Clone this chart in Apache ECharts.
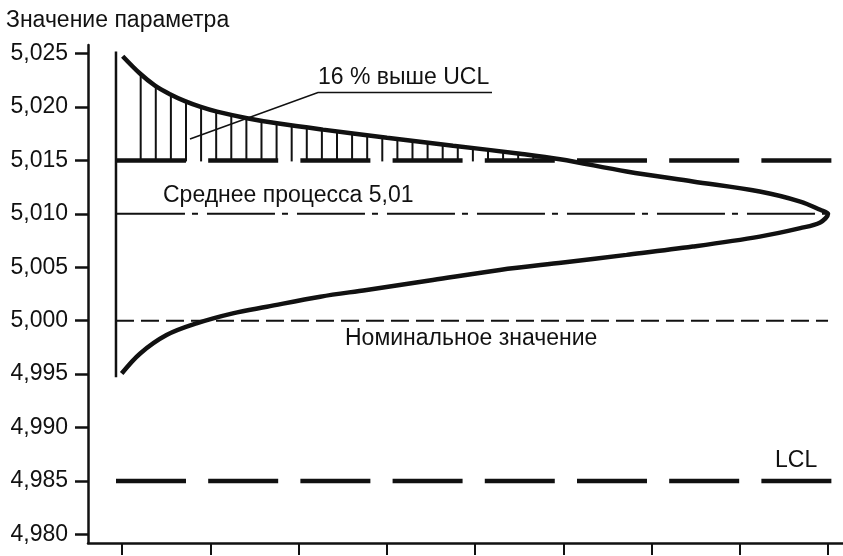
<!DOCTYPE html>
<html>
<head>
<meta charset="utf-8">
<script src="https://cdn.jsdelivr.net/npm/echarts@6/dist/echarts.min.js"></script>
<style>
html,body{margin:0;padding:0;background:#fff;}
#chart{width:843px;height:556px;}
</style>
</head>
<body>
<div id="chart"></div>
<script>
// ---- data ----
const yTickValues = [4.980, 4.985, 4.990, 4.995, 5.000, 5.005, 5.010, 5.015, 5.020, 5.025];
const xTickValues = [0.84, 13.24, 25.63, 38.03, 50.42, 62.82, 75.21, 87.61, 100];
// relative frequency (% of peak) and parameter value along the distribution curve
const curveDensity = [0.94, 3.37, 5.48, 7.58, 9.69, 11.8, 14.19, 18.4, 22.61, 29.07, 38.06, 47.33, 56.74, 62.36, 71.7, 81.0, 90.4, 96.1, 98.9, 100,
                      98.9, 96.1, 90.4, 81.0, 71.7, 62.8, 53.9, 44.5, 35.2, 28.7, 21.2, 16.4, 11.3, 7.1, 3.4, 0.8];
const curveValue = [5.02475, 5.02313, 5.02200, 5.02120, 5.02055, 5.02003, 5.01956, 5.01895, 5.01847, 5.01788, 5.01713, 5.01638, 5.01563, 5.01511, 5.01397, 5.01303, 5.01209, 5.01115, 5.01038, 5.01000,
                    5.00920, 5.00866, 5.00787, 5.00694, 5.00616, 5.00545, 5.00475, 5.00381, 5.00288, 5.00225, 5.00131, 5.00069, 4.99975, 4.99866, 4.99694, 4.99506];
const UCL = 5.015;
const LCL = 4.985;
const processMean = 5.010;
const nominalValue = 5.000;
const baselineRange = [5.0252, 4.9947];
const limitLineEnd = 100.7;
const refLineEnd = 100;

// ---- chart ----
const chart = echarts.init(document.getElementById('chart'), null, {renderer: 'canvas'});
const INK = '#111';
const FONT = 'Liberation Sans, Arial, sans-serif';
const FS = 23;

const curveData = curveDensity.map((d, i) => [d, curveValue[i]]);
const peakIndex = curveDensity.indexOf(Math.max.apply(null, curveDensity));

function hatchRender(params, api) {
  if (params.dataIndex !== 0) return null;
  const pts = [];
  for (let i = 0; i <= peakIndex; i++) pts.push(api.coord([curveDensity[i], curveValue[i]]));
  const base = api.coord([0, UCL]);
  const uy = base[1];
  const children = [];
  for (let k = 0; k < 60; k++) {
    const x = base[0] + 24.7 + 15.1 * k;
    let yc = null;
    for (let i = 0; i < pts.length - 1; i++) {
      if (pts[i][0] <= x && x <= pts[i + 1][0]) {
        const t = (x - pts[i][0]) / (pts[i + 1][0] - pts[i][0]);
        yc = pts[i][1] + t * (pts[i + 1][1] - pts[i][1]);
        break;
      }
    }
    if (yc === null || yc >= uy - 2) break;
    children.push({type: 'line', shape: {x1: x, y1: uy + 1, x2: x, y2: yc}, style: {stroke: INK, lineWidth: 2}});
  }
  return {type: 'group', children: children};
}

const option = {
  backgroundColor: '#fff',
  animation: false,
  grid: {left: 88, right: 0, top: 45, bottom: 13, outerBoundsMode: 'none', containLabel: false},
  xAxis: {
    type: 'value', min: -3.93, max: 102.1,
    axisLine: {show: true, onZero: false, lineStyle: {color: INK, width: 2.5}},
    axisTick: {show: true, length: 12, inside: false, customValues: xTickValues, lineStyle: {color: INK, width: 2}},
    axisLabel: {show: false},
    splitLine: {show: false}
  },
  yAxis: {
    type: 'value', min: 4.9792, max: 5.0258,
    axisLine: {show: true, onZero: false, lineStyle: {color: INK, width: 2.5}},
    axisTick: {show: true, length: 13, customValues: yTickValues, lineStyle: {color: INK, width: 2.5}},
    axisLabel: {
      show: true, customValues: yTickValues, margin: 20, color: INK, fontSize: FS, fontFamily: FONT,
      formatter: v => v.toFixed(3).replace('.', ',')
    },
    splitLine: {show: false}
  },
  series: [
    {type: 'custom', renderItem: hatchRender, data: [[0, UCL]], silent: true, z: 2},
    {type: 'line', data: [[0, UCL], [limitLineEnd, UCL]], showSymbol: false, silent: true, z: 3,
     lineStyle: {color: INK, width: 4.5, type: [70, 22.2]}},
    {type: 'line', data: [[0, LCL], [limitLineEnd, LCL]], showSymbol: false, silent: true, z: 3,
     lineStyle: {color: INK, width: 4.5, type: [70, 22.2]}},
    {type: 'line', data: [[0, processMean], [refLineEnd, processMean]], showSymbol: false, silent: true, z: 3,
     lineStyle: {color: INK, width: 2, type: [68, 7, 6, 9], dashOffset: -1}},
    {type: 'line', data: [[0, nominalValue], [refLineEnd, nominalValue]], showSymbol: false, silent: true, z: 3,
     lineStyle: {color: INK, width: 2, type: [18, 7]}},
    {type: 'line', data: [[0, baselineRange[0]], [0, baselineRange[1]]], showSymbol: false, silent: true, z: 3,
     lineStyle: {color: INK, width: 2.5}},
    {type: 'line', data: curveData, showSymbol: false, silent: true, smooth: 0.35, z: 4,
     lineStyle: {color: INK, width: 4.5}}
  ],
  graphic: [
    {type: 'text', left: 6, top: 9, style: {text: 'Значение параметра', fill: INK, font: FS + 'px ' + FONT}},
    {type: 'text', left: 318, top: 66, style: {text: '16 % выше UCL', fill: INK, font: FS + 'px ' + FONT}},
    {type: 'polyline', shape: {points: [[190, 139], [318, 92.5], [492, 92.5]]}, style: {stroke: INK, lineWidth: 1.6, fill: null}},
    {type: 'text', left: 163, top: 184, style: {text: 'Среднее процесса 5,01', fill: INK, font: FS + 'px ' + FONT}},
    {type: 'text', left: 345, top: 327, style: {text: 'Номинальное значение', fill: INK, font: FS + 'px ' + FONT}},
    {type: 'text', left: 775, top: 449, style: {text: 'LCL', fill: INK, font: FS + 'px ' + FONT}}
  ]
};
chart.setOption(option);
</script>
</body>
</html>
